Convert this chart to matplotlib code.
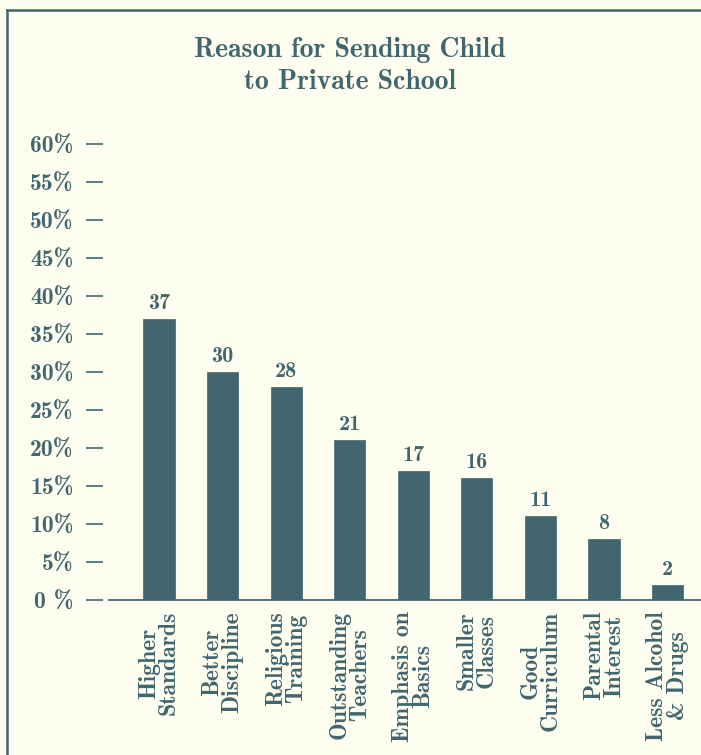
import matplotlib
matplotlib.use("Agg")
import matplotlib.pyplot as plt
from matplotlib.lines import Line2D

# data
reasons = ["Higher\nStandards", "Better\nDiscipline", "Religious\nTraining",
           "Outstanding\nTeachers", "Emphasis on\nBasics", "Smaller\nClasses",
           "Good\nCurriculum", "Parental\nInterest", "Less Alcohol\n& Drugs"]
percents = [37, 30, 28, 21, 17, 16, 11, 8, 2]
yticks = [0, 5, 10, 15, 20, 25, 30, 35, 40, 45, 50, 55, 60]
ytick_labels = ["0 %"] + [f"{v}%" for v in yticks[1:]]

BG = "#fdfdf0"
INK = "#41666e"
FONT = ["cmb10", "DejaVu Serif"]

plt.rcParams["font.family"] = FONT
plt.rcParams["axes.unicode_minus"] = False

fig = plt.figure(figsize=(7.01, 7.55), dpi=100, facecolor=BG)
ax = fig.add_axes([103 / 701, 155 / 755, 597 / 701, 471 / 755])
ax.set_facecolor(BG)

x = list(range(len(reasons)))
ax.bar(x, percents, width=0.49, color=INK, edgecolor=INK, linewidth=0.5, zorder=2)
for xi, v in zip(x, percents):
    ax.text(xi, v + 0.8, str(v), ha="center", va="bottom", fontsize=16,
            color=INK, family=FONT)

ax.set_xlim(-0.88, 8.51)
ax.set_ylim(0, 62)

for s in ["left", "right", "top"]:
    ax.spines[s].set_visible(False)
ax.spines["bottom"].set_color(INK)
ax.spines["bottom"].set_linewidth(1.3)
ax.spines["bottom"].set_bounds(-0.78, 8.51)

ax.set_yticks(yticks)
ax.set_yticklabels(ytick_labels)
ax.tick_params(axis="y", length=12, width=1.2, color=INK, pad=9,
               labelsize=17, labelcolor=INK)
ax.set_xticks(x)
ax.set_xticklabels(reasons, rotation=90, ha="center", va="top",
                   multialignment="center", linespacing=0.9)
ax.tick_params(axis="x", length=0, pad=8, labelsize=17, labelcolor=INK)

fig.text(350 / 701, 1 - 66 / 755, "Reason for Sending Child\nto Private School",
         ha="center", va="center", fontsize=20, color=INK, linespacing=1.3,
         family=FONT)

# frame of the scanned page
fig.add_artist(Line2D([7 / 701, 7 / 701], [0, 1 - 10 / 755], color=INK, lw=1.8))
fig.add_artist(Line2D([7 / 701, 1], [1 - 10 / 755, 1 - 10 / 755], color=INK, lw=1.8))

fig.savefig("out.png", dpi=100, facecolor=BG)
